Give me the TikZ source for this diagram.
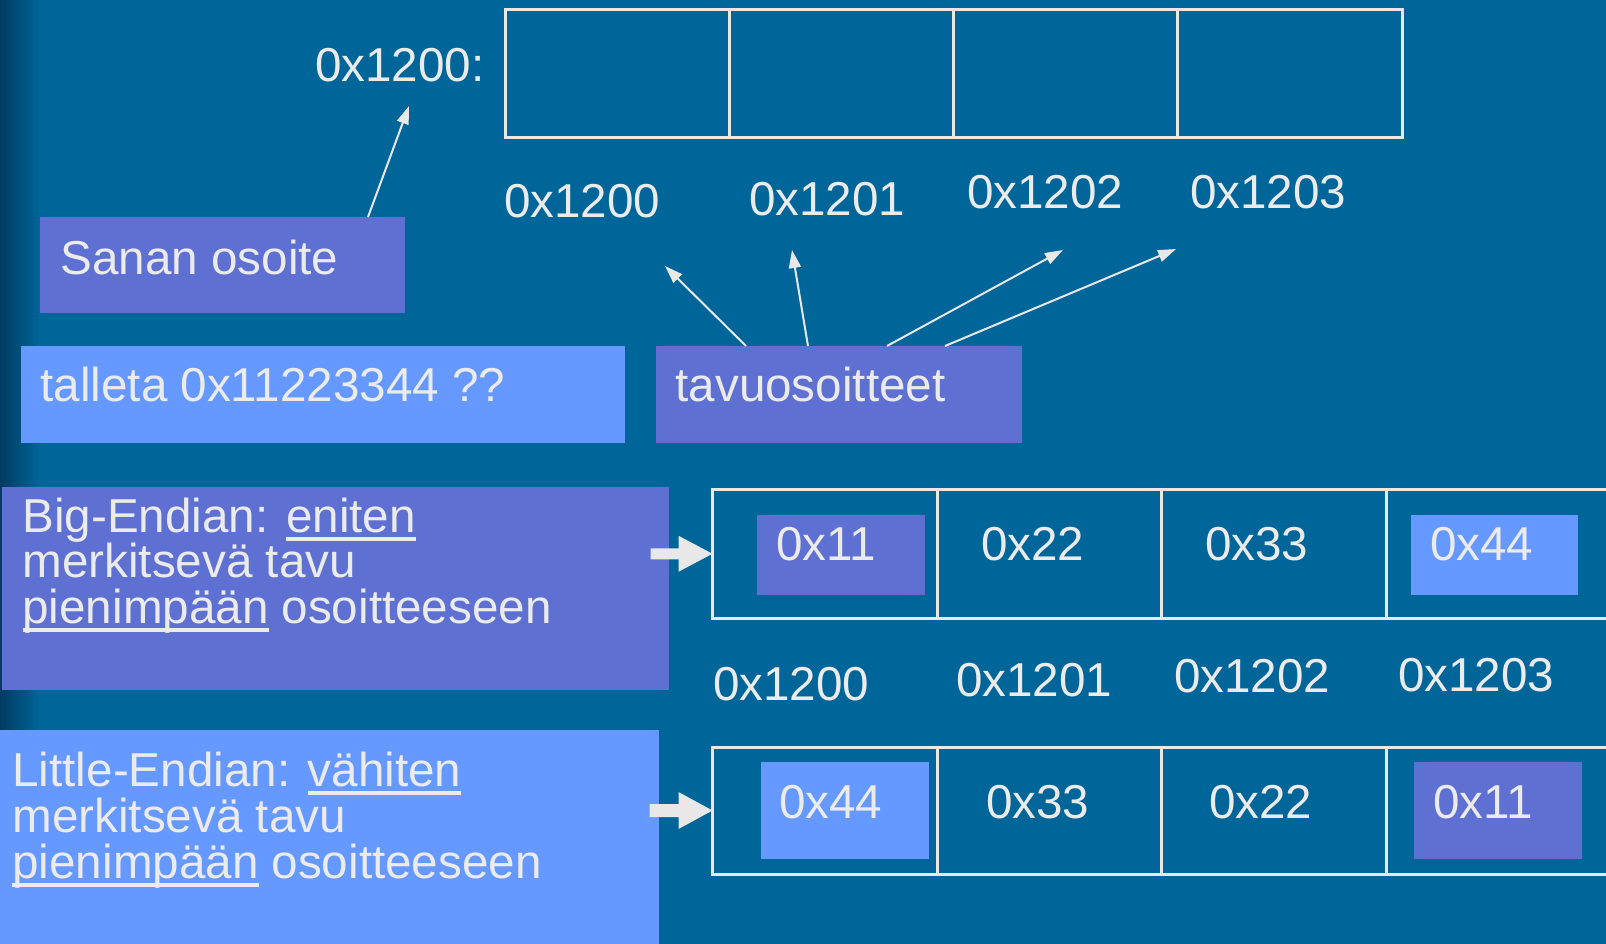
\documentclass[tikz,border=0pt]{standalone}
\usepackage{fontspec}
\setmainfont{Liberation Sans}
\usetikzlibrary{arrows.meta,calc}
\definecolor{bg}{HTML}{006699}
\definecolor{pbox}{HTML}{5F70D3}
\definecolor{lbox}{HTML}{6699FF}
\definecolor{txt}{HTML}{EBEBEB}
\definecolor{edgec}{HTML}{E8E8E8}
\definecolor{darkc}{HTML}{003C62}
\newcommand\myul[1]{\sbox0{#1}\rlap{\rule[-8.5pt]{\wd0}{4pt}}#1}
\begin{document}
\begin{tikzpicture}[x=1pt,y=-1pt,
  lbl/.style={anchor=base west, inner sep=0pt, outer sep=0pt, text=txt, font=\fontsize{47.6}{46}\selectfont},
  panel/.style 2 args={anchor=north west, inner sep=0pt, outer sep=0pt, draw=none, minimum width=#1pt, minimum height=#2pt},
  cell/.style 2 args={anchor=north west, inner sep=0pt, outer sep=0pt, draw=edgec, line width=3pt, minimum width=#1pt, minimum height=#2pt},
  link/.style={draw=edgec, line width=2pt, -{Triangle[length=18pt,width=12pt]}},
  blockarrow/.style={fill=edgec}
]
\useasboundingbox (0,0) rectangle (1606,944);
\clip (0,0) rectangle (1606,944);
\fill[bg] (0,0) rectangle (1606,944);
\shade[left color=darkc, right color=bg] (0,0) rectangle (40,944);

% top word
\node[cell={224.25}{128}] (a1) at (505,10) {};
\node[cell={224.25}{128}] (a2) at (729.25,10) {};
\node[cell={224.25}{128}] (a3) at (953.5,10) {};
\node[cell={224.25}{128}] (a4) at (1177.75,10) {};
\node[lbl] (w) at (315,82) {0x1200:};
\node[lbl] (l0) at (504,218) {0x1200};
\node[lbl] (l1) at (749,215) {0x1201};
\node[lbl] (l2) at (967,209) {0x1202};
\node[lbl] (l3) at (1190,209) {0x1203};

% boxes
\node[panel={365}{96}, fill=pbox] (sanan) at (40,217) {};
\node[lbl] (sanant) at (60.5,274) {Sanan osoite};
\node[panel={604}{97}, fill=lbox] (talleta) at (21,346) {};
\node[lbl] (tallett) at (40.5,401) {talleta 0x11223344 ??};
\node[panel={366}{97}, fill=pbox] (tavu) at (656,346) {};
\node[lbl] (tavut) at (675.5,401) {tavuosoitteet};

% arrows
\coordinate (tw) at (409,106);
\coordinate (t1) at (665,266);
\coordinate (t2) at (792,250);
\coordinate (t3) at (1063,250);
\coordinate (t4) at (1176,249);
\draw[link] ([xshift=328pt]sanan.north west) -- (tw);
\draw[link] ([xshift=90pt]tavu.north west) -- (t1);
\draw[link] ([xshift=152pt]tavu.north west) -- (t2);
\draw[link] ([xshift=231pt]tavu.north west) -- (t3);
\draw[link] ([xshift=289pt]tavu.north west) -- (t4);

% big endian
\node[panel={667}{203}, fill=pbox] (big) at (2,487) {};
\node[lbl] (bg1) at (22.5,532) {Big-Endian: \myul{eniten}};
\node[lbl] (bg2) at (22.5,577) {merkitsevä tavu};
\node[lbl] (bg3) at (22.5,623) {\myul{pienimpään} osoitteeseen};

\node[cell={224.5}{129.5}] (b1) at (712.5,489) {};
\node[cell={224.5}{129.5}] (b2) at (937,489) {};
\node[cell={224.5}{129.5}] (b3) at (1161.5,489) {};
\node[cell={224.5}{129.5}] (b4) at (1386,489) {};
\node[panel={168}{80}, fill=pbox] (bh1) at (757,515) {};
\node[panel={167}{80}, fill=lbox] (bh4) at (1411,515) {};
\node[lbl] (bv1) at (776,560) {0x11};
\node[lbl] (bv2) at (981,560) {0x22};
\node[lbl] (bv3) at (1205,560) {0x33};
\node[lbl] (bv4) at (1430,560) {0x44};
\begin{scope}[shift={(b1.west)}]
\fill[blockarrow] (-62,-5.5) -- (-34,-5.5) -- (-34,-18) -- (0,0) -- (-34,18) -- (-34,5.5) -- (-62,5.5) -- cycle;
\end{scope}

\node[lbl] (m0) at (713,700) {0x1200};
\node[lbl] (m1) at (956,696) {0x1201};
\node[lbl] (m2) at (1174,692) {0x1202};
\node[lbl] (m3) at (1398,691) {0x1203};

% little endian
\node[panel={659}{220}, fill=lbox] (little) at (0,730) {};
\node[lbl] (lt1) at (12.5,786) {Little-Endian: \myul{vähiten}};
\node[lbl] (lt2) at (12.5,832) {merkitsevä tavu};
\node[lbl] (lt3) at (12.5,878) {\myul{pienimpään} osoitteeseen};

\node[cell={224.5}{127}] (c1) at (712.5,747) {};
\node[cell={224.5}{127}] (c2) at (937,747) {};
\node[cell={224.5}{127}] (c3) at (1161.5,747) {};
\node[cell={224.5}{127}] (c4) at (1386,747) {};
\node[panel={168}{97}, fill=lbox] (ch1) at (761,762) {};
\node[panel={168}{97}, fill=pbox] (ch4) at (1414,762) {};
\node[lbl] (cv1) at (779,818) {0x44};
\node[lbl] (cv2) at (986,818) {0x33};
\node[lbl] (cv3) at (1209,818) {0x22};
\node[lbl] (cv4) at (1433,818) {0x11};
\begin{scope}[shift={(c1.west)}]
\fill[blockarrow] (-63,-6.5) -- (-34,-6.5) -- (-34,-18.5) -- (0,0) -- (-34,18.5) -- (-34,6.5) -- (-63,6.5) -- cycle;
\end{scope}
\end{tikzpicture}
\end{document}
